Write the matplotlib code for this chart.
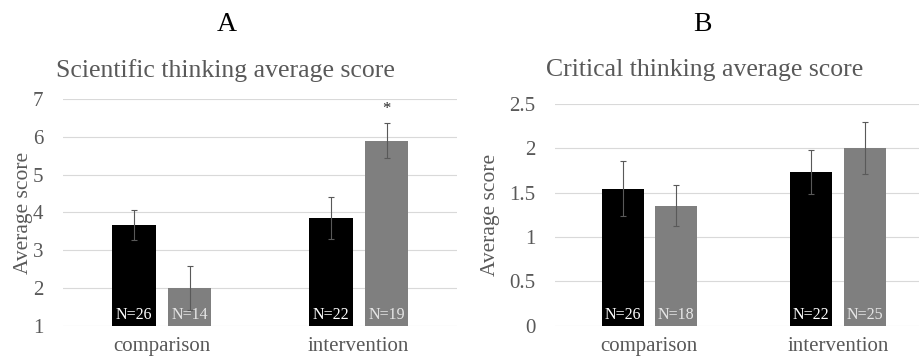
import matplotlib.pyplot as plt
import numpy as np

plt.rcParams["font.family"] = ["Liberation Serif", "DejaVu Serif"]

categories = ["comparison", "intervention"]

# panel A: scientific thinking
sci_black = [3.67, 3.85]
sci_black_err = [0.39, 0.56]
sci_gray = [2.00, 5.90]
sci_gray_err = [0.58, 0.47]
sci_black_n = ["N=26", "N=22"]
sci_gray_n = ["N=14", "N=19"]
sci_gray_sig = ["", "*"]

# panel B: critical thinking
crit_black = [1.54, 1.73]
crit_black_err = [0.31, 0.245]
crit_gray = [1.35, 2.00]
crit_gray_err = [0.23, 0.29]
crit_black_n = ["N=26", "N=22"]
crit_gray_n = ["N=18", "N=25"]

TXT = "#595959"
BLACK = "#000000"
GRAY = "#7f7f7f"
W = 0.223
OFF = 0.142


def draw_panel(ax, black, black_err, gray, gray_err, black_n, gray_n, ylim, step, base, sig=None):
    x = np.arange(len(categories))
    ax.bar(x - OFF, np.array(black) - base, W, bottom=base, color=BLACK, zorder=3)
    ax.bar(x + OFF, np.array(gray) - base, W, bottom=base, color=GRAY, zorder=3)
    ekw = dict(fmt="none", ecolor=TXT, elinewidth=0.8, capsize=2.5, capthick=0.8, zorder=4)
    ax.errorbar(x - OFF, black, yerr=black_err, **ekw)
    ax.errorbar(x + OFF, gray, yerr=gray_err, **ekw)
    lab_y = base + (ylim[1] - ylim[0]) * 0.05
    for i in range(len(categories)):
        ax.text(x[i] - OFF, lab_y, black_n[i], color="white", ha="center", va="center", fontsize=11.5, zorder=5)
        ax.text(x[i] + OFF, lab_y, gray_n[i], color="#e6e6e6", ha="center", va="center", fontsize=11.5, zorder=5)
        if sig and sig[i]:
            ax.text(x[i] + OFF, gray[i] + gray_err[i] + (ylim[1] - ylim[0]) * 0.06, sig[i],
                    ha="center", va="center", fontsize=12, color="#262626")
    ax.set_xlim(-0.5, len(categories) - 0.5)
    ax.set_ylim(*ylim)
    ticks = np.arange(ylim[0], ylim[1] + step / 2, step)
    ax.set_yticks(ticks)
    ax.set_yticklabels([f"{t:g}" for t in ticks])
    ax.set_xticks(x)
    ax.set_xticklabels(categories)
    ax.grid(axis="y", color="#d9d9d9", linewidth=0.8, zorder=0)
    ax.set_axisbelow(True)
    for s in ax.spines.values():
        s.set_visible(False)
    ax.tick_params(axis="both", length=0, labelsize=15, colors=TXT)
    ax.tick_params(axis="y", pad=14)
    ax.tick_params(axis="x", pad=8)
    ax.set_ylabel("Average score", fontsize=15.5, color=TXT)


fig = plt.figure(figsize=(9.2, 3.61), dpi=100)

ax1 = fig.add_axes([0.0685, 0.097, 0.4283, 0.6288])
draw_panel(ax1, sci_black, sci_black_err, sci_gray, sci_gray_err, sci_black_n, sci_gray_n,
           (1, 7), 1, 1, sig=sci_gray_sig)
ax1.yaxis.set_label_coords(-0.076, 0.5)

ax2 = fig.add_axes([0.6033, 0.0978, 0.4098, 0.6149])
draw_panel(ax2, crit_black, crit_black_err, crit_gray, crit_gray_err, crit_black_n, crit_gray_n,
           (0, 2.5), 0.5, 0)
ax2.yaxis.set_label_coords(-0.145, 0.5)

fig.text(0.2467, 0.931, "A", ha="center", va="center", fontsize=20, color="black")
fig.text(0.2446, 0.806, "Scientific thinking average score", ha="center", va="center", fontsize=18.5, color=TXT)
fig.text(0.763, 0.931, "B", ha="center", va="center", fontsize=20, color="black")
fig.text(0.766, 0.806, "Critical thinking average score", ha="center", va="center", fontsize=18.5, color=TXT)

fig.savefig("out.png", dpi=100)
